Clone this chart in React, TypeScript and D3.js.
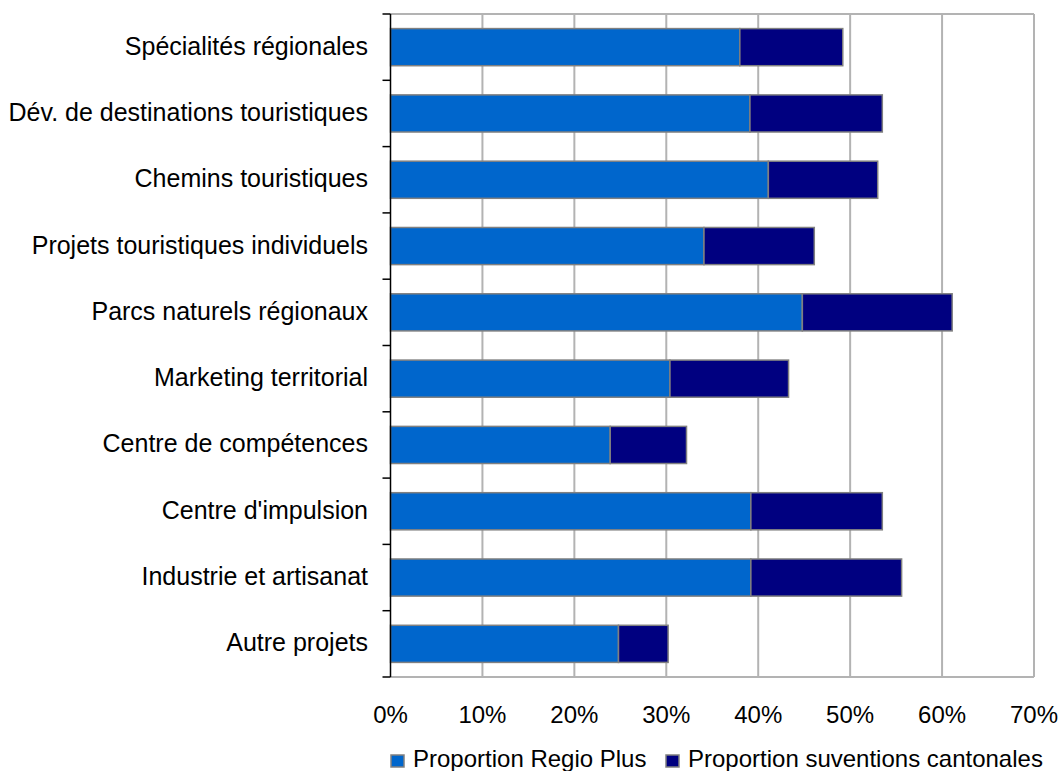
import React from 'react';
import * as d3 from 'd3';

const categories = [
  'Spécialités régionales',
  'Dév. de destinations touristiques',
  'Chemins touristiques',
  'Projets touristiques individuels',
  'Parcs naturels régionaux',
  'Marketing territorial',
  'Centre de compétences',
  "Centre d'impulsion",
  'Industrie et artisanat',
  'Autre projets',
];

const regioPlus = [38.0, 39.1, 41.1, 34.1, 44.8, 30.4, 23.9, 39.2, 39.2, 24.8];
const cantonal = [11.2, 14.4, 11.9, 12.0, 16.3, 12.9, 8.3, 14.3, 16.4, 5.4];

const seriesNames = ['Proportion Regio Plus', 'Proportion suventions cantonales'];
const seriesColors = ['#0066cc', '#000080'];
const xTicks = [0, 10, 20, 30, 40, 50, 60, 70];

function App() {
  const ref = React.useRef<SVGSVGElement>(null);

  React.useEffect(() => {
    const svg = d3.select(ref.current);
    svg.selectAll('*').remove();

    const margin = { top: 14, right: 26, bottom: 94, left: 390.5 };
    const width = 1060;
    const height = 771;

    const x = d3
      .scaleLinear()
      .domain([0, 70])
      .range([margin.left, width - margin.right]);

    const y = d3
      .scaleBand()
      .domain(categories)
      .range([margin.top, height - margin.bottom])
      .paddingInner(0.44)
      .paddingOuter(0.22);

    const yEdge = d3
      .scaleLinear()
      .domain([0, categories.length])
      .range([margin.top, height - margin.bottom]);

    const font = 'Liberation Sans, Arial, sans-serif';

    // grid
    svg
      .append('g')
      .selectAll('line')
      .data(xTicks.slice(1))
      .join('line')
      .attr('x1', (d) => x(d))
      .attr('x2', (d) => x(d))
      .attr('y1', margin.top)
      .attr('y2', height - margin.bottom)
      .attr('stroke', '#b3b3b3')
      .attr('stroke-width', 2);

    [margin.top, height - margin.bottom].forEach((yy) => {
      svg
        .append('line')
        .attr('x1', margin.left)
        .attr('x2', width - margin.right)
        .attr('y1', yy)
        .attr('y2', yy)
        .attr('stroke', '#b3b3b3')
        .attr('stroke-width', 2);
    });

    // bars
    const stacked = categories.map((c, i) => [
      { c, x0: 0, x1: regioPlus[i], s: 0 },
      { c, x0: regioPlus[i], x1: regioPlus[i] + cantonal[i], s: 1 },
    ]);

    svg
      .append('g')
      .selectAll('rect')
      .data(stacked.flat())
      .join('rect')
      .attr('x', (d) => x(d.x0))
      .attr('width', (d) => x(d.x1) - x(d.x0))
      .attr('y', (d) => y(d.c)!)
      .attr('height', y.bandwidth())
      .attr('fill', (d) => seriesColors[d.s])
      .attr('stroke', '#808080')
      .attr('stroke-width', 1.5);

    // y axis
    svg
      .append('line')
      .attr('x1', margin.left)
      .attr('x2', margin.left)
      .attr('y1', margin.top)
      .attr('y2', height - margin.bottom)
      .attr('stroke', '#000')
      .attr('stroke-width', 1.5);

    svg
      .append('g')
      .selectAll('line')
      .data(d3.range(categories.length + 1))
      .join('line')
      .attr('x1', margin.left - 8)
      .attr('x2', margin.left)
      .attr('y1', (d) => yEdge(d))
      .attr('y2', (d) => yEdge(d))
      .attr('stroke', '#000')
      .attr('stroke-width', 1.5);

    svg
      .append('g')
      .selectAll('text')
      .data(categories)
      .join('text')
      .attr('x', 368)
      .attr('y', (d) => y(d)! + y.bandwidth() / 2)
      .attr('dy', '0.3em')
      .attr('text-anchor', 'end')
      .attr('font-family', font)
      .attr('font-size', 25)
      .attr('fill', '#000')
      .text((d) => d);

    // x labels
    svg
      .append('g')
      .selectAll('text')
      .data(xTicks)
      .join('text')
      .attr('x', (d) => x(d))
      .attr('y', 723)
      .attr('text-anchor', 'middle')
      .attr('font-family', font)
      .attr('font-size', 24)
      .attr('fill', '#000')
      .text((d) => `${d}%`);

    // legend
    const legendX = [391, 666];
    const lg = svg
      .append('g')
      .selectAll('g')
      .data(seriesNames)
      .join('g')
      .attr('transform', (_, i) => `translate(${legendX[i]},755)`);
    lg.append('rect')
      .attr('width', 13)
      .attr('height', 12)
      .attr('fill', (_, i) => seriesColors[i])
      .attr('stroke', '#808080')
      .attr('stroke-width', 1.5);
    lg.append('text')
      .attr('x', 22)
      .attr('y', 12)
      .attr('font-family', font)
      .attr('font-size', 24)
      .attr('fill', '#000')
      .text((d) => d);
  }, []);

  return (
    <svg
      ref={ref}
      width={1060}
      height={771}
      style={{ position: 'absolute', left: 0, top: 0, background: '#fff' }}
    />
  );
}

export default App;
